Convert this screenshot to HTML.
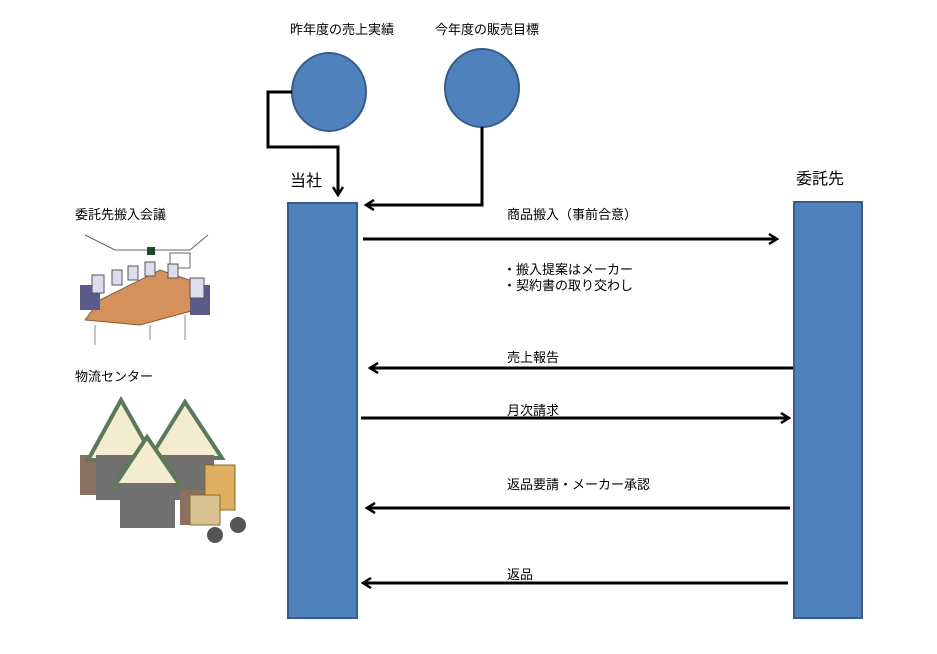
<!DOCTYPE html>
<html><head><meta charset="utf-8"><style>
body{margin:0;background:#fff;}
svg{display:block;font-family:"Liberation Sans","Noto Sans CJK JP",sans-serif;}
</style></head><body>
<svg width="937" height="654" viewBox="0 0 937 654" xmlns="http://www.w3.org/2000/svg">
<defs>
<marker id="ah" markerWidth="12" markerHeight="12" refX="9" refY="6" orient="auto" markerUnits="userSpaceOnUse">
<path d="M1,1 L9,6 L1,11" fill="none" stroke="#000" stroke-width="2.5"/>
</marker>
</defs>
<g font-size="13" fill="#000">
<text x="290" y="34">昨年度の売上実績</text>
<text x="435" y="34">今年度の販売目標</text>
<text x="75" y="219">委託先搬入会議</text>
<text x="75" y="381">物流センター</text>
<text x="507" y="219">商品搬入（事前合意）</text>
<text x="503" y="274">・搬入提案はメーカー</text>
<text x="503" y="290">・契約書の取り交わし</text>
<text x="507" y="362">売上報告</text>
<text x="507" y="415">月次請求</text>
<text x="507" y="489">返品要請・メーカー承認</text>
<text x="507" y="579">返品</text>
</g>
<text x="290" y="186" font-size="16">当社</text>
<text x="796" y="184" font-size="16">委託先</text>
<ellipse cx="329" cy="92" rx="37" ry="39" fill="#4f81bd" stroke="#385d8a" stroke-width="2"/>
<ellipse cx="482" cy="88" rx="37" ry="39" fill="#4f81bd" stroke="#385d8a" stroke-width="2"/>
<rect x="288" y="203" width="69" height="415" fill="#4f81bd" stroke="#385d8a" stroke-width="2"/>
<rect x="794" y="202" width="68" height="416" fill="#4f81bd" stroke="#385d8a" stroke-width="2"/>
<g fill="none" stroke="#000" stroke-width="3">
<path d="M292,92 H268 V147 H338 V195" marker-end="url(#ah)"/>
<path d="M482,127 V205 H366" marker-end="url(#ah)"/>
<path d="M363,239 H777" marker-end="url(#ah)"/>
<path d="M793,368 H370" marker-end="url(#ah)"/>
<path d="M361,418 H789" marker-end="url(#ah)"/>
<path d="M790,508 H367" marker-end="url(#ah)"/>
<path d="M788,583 H363" marker-end="url(#ah)"/>
</g>
<!-- meeting illustration -->
<g>
<path d="M85,235 L115,250 M208,235 L190,250 M115,250 H190" stroke="#666" fill="none"/>
<rect x="147" y="247" width="8" height="8" fill="#1a4a2a"/>
<rect x="170" y="253" width="20" height="15" fill="#fff" stroke="#666"/>
<ellipse cx="150" cy="295" rx="30" ry="6" fill="#6a6a9a"/>
<polygon points="100,300 160,270 195,282 195,310 140,325 85,320" fill="#d4915c" stroke="#8a5a30"/>
<rect x="80" y="285" width="20" height="25" fill="#5a5a8a"/>
<rect x="190" y="285" width="20" height="30" fill="#5a5a8a"/>
<g fill="#dde" stroke="#555">
<rect x="92" y="275" width="12" height="18"/><rect x="112" y="270" width="10" height="15"/>
<rect x="128" y="266" width="10" height="14"/><rect x="145" y="262" width="10" height="14"/>
<rect x="168" y="264" width="10" height="14"/><rect x="190" y="278" width="14" height="20"/>
</g>
<path d="M95,325 V345 M185,315 V340 M150,325 V340" stroke="#888"/>
</g>
<!-- warehouse illustration -->
<g>
<rect x="80" y="455" width="40" height="40" fill="#8a7060"/>
<polygon points="88,460 121,400 155,460" fill="#f3eccf" stroke="#5a7a5a" stroke-width="4"/>
<rect x="96" y="455" width="50" height="45" fill="#707070"/>
<polygon points="150,458 185,402 222,458" fill="#f3eccf" stroke="#5a7a5a" stroke-width="4"/>
<rect x="158" y="455" width="56" height="45" fill="#707070"/>
<polygon points="115,485 147,437 180,485" fill="#f3eccf" stroke="#5a7a5a" stroke-width="4"/>
<rect x="120" y="483" width="55" height="45" fill="#707070"/>
<rect x="180" y="490" width="30" height="35" fill="#8a7060"/>
<rect x="205" y="465" width="30" height="45" fill="#e0b060" stroke="#8a6a2a"/>
<rect x="190" y="495" width="30" height="30" fill="#d8c090" stroke="#8a6a2a"/>
<circle cx="215" cy="535" r="8" fill="#555"/><circle cx="238" cy="525" r="8" fill="#555"/>
</g>
</svg>
</body></html>
